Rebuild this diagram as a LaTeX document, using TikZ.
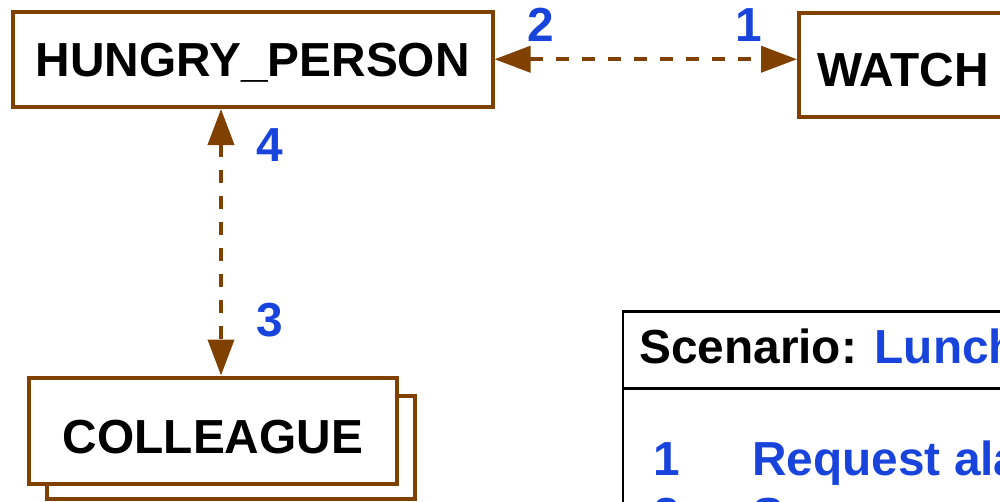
\documentclass[tikz,border=0pt]{standalone}
\usepackage{fontspec}
\setmainfont{Liberation Sans}
\usetikzlibrary{arrows.meta,calc}
\definecolor{brn}{RGB}{128,64,0}
\definecolor{lblue}{RGB}{24,68,220}
\begin{document}
\begin{tikzpicture}[x=1pt,y=-1pt,
  every node/.style={font=\fontsize{47.8}{56}\selectfont\bfseries},
  entity/.style={draw=brn, line width=4pt, fill=white, inner sep=0pt, text depth=0pt},
  num/.style={text=lblue, inner sep=0pt, text height=34pt, text depth=0pt},
  txt/.style={anchor=base west, inner sep=0pt},
  link/.style={draw=brn, line width=4pt, dash pattern=on 13pt off 13pt,
    {Triangle[length=36pt,width=26pt]}-{Triangle[length=36pt,width=26pt]}}
]
\useasboundingbox (0,0) rectangle (1000,501);
\clip (0,0) rectangle (1000,501);

% entities
\node[entity, minimum width=479.5pt, minimum height=95.5pt, text height=34pt] (hp) at (252.75,59.25) {HUNGRY\_PERSON};
\node[entity, anchor=west, minimum height=104.5pt, text width=380pt, inner xsep=18pt, align=left, text height=43pt] (watch) at (797,64.75) {WATCH};
\node[entity, minimum width=368.3pt, minimum height=102.5pt] (colleagueback) at (230.85,447.25) {};
\node[entity, minimum width=368pt, minimum height=106.5pt, text height=45pt] (colleague) at (213,430.75) {COLLEAGUE};

% connectors
\coordinate (vx) at (221,0);
\draw[link] (hp.east) -- (hp.east -| watch.west);
\draw[link] (hp.south -| vx) -- (colleague.north -| vx);

% connector labels
\node[num] (n2) at (541,24.5) {2};
\node[num] (n1) at (749,24.5) {1};
\node[num] (n4) at (269.5,144.5) {4};
\node[num] (n3) at (269.5,319.5) {3};

% scenario box
\node[draw=black, line width=2.5pt, anchor=north west, minimum width=500pt, minimum height=300pt, inner sep=0pt] (scen) at (621.5,310) {};
\coordinate (sep) at (0,388.5);
\draw[line width=2.5pt] (scen.west |- sep) -- (scen.east |- sep);
\node[txt] (scentitle) at (639,363) {Scenario: \textcolor{lblue}{Lunch}};
\node[txt, text=lblue] (r1n) at (653,475) {1};
\node[txt, text=lblue] (r1t) at (752,475) {Request ala};
\node[txt, text=lblue] (r2n) at (653,531) {2};
\node[txt, text=lblue] (r2t) at (752,531) {S};
\end{tikzpicture}
\end{document}
